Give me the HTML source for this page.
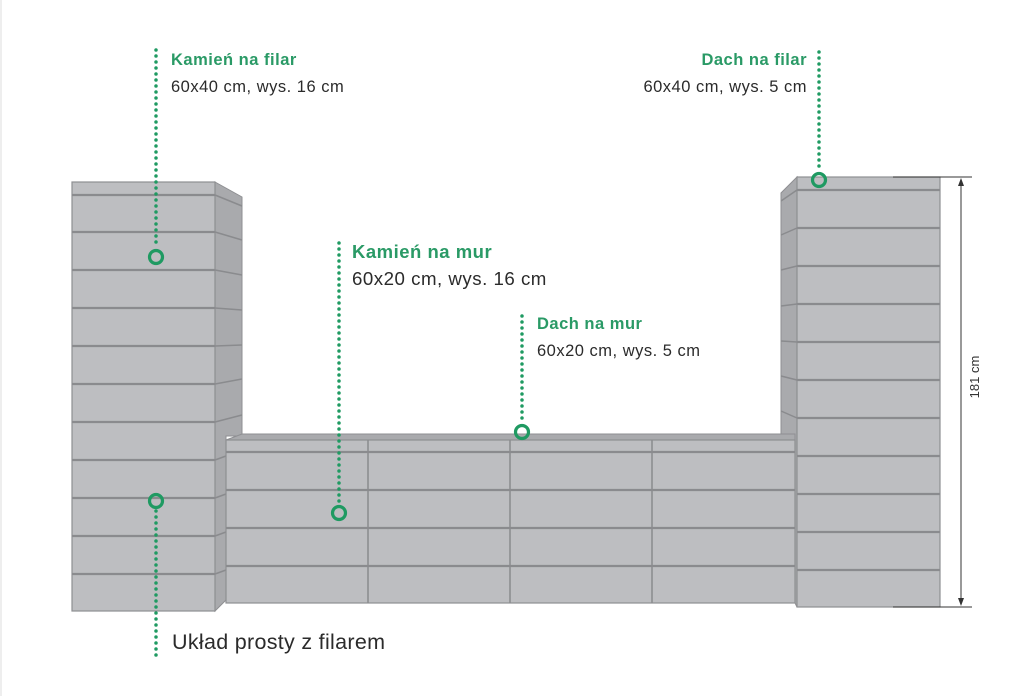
<!DOCTYPE html>
<html><head><meta charset="utf-8"><style>
html,body{margin:0;padding:0;background:#fff;}
svg{display:block;}
text{font-family:"Liberation Sans",sans-serif;}
</style></head><body>
<svg width="1024" height="696" viewBox="0 0 1024 696" xmlns="http://www.w3.org/2000/svg">
<rect x="0" y="0" width="1024" height="696" fill="#fff"/>
<line x1="1" y1="0" x2="1" y2="696" stroke="#eee" stroke-width="2"/>

<!-- LEFT PILLAR -->
<polygon points="215,182 242,197 242,436 226,436 226,600 215,611" fill="#a9aaad" stroke="#8e8f92" stroke-width="1"/>
<rect x="72" y="182" width="143" height="429" fill="#bdbec1" stroke="#8e8f92" stroke-width="1.2"/>
<g stroke="#8a8b8e" stroke-width="2.2">
<line x1="72" y1="195" x2="215" y2="195"/>
<line x1="72" y1="232" x2="215" y2="232"/>
<line x1="72" y1="270" x2="215" y2="270"/>
<line x1="72" y1="308" x2="215" y2="308"/>
<line x1="72" y1="346" x2="215" y2="346"/>
<line x1="72" y1="384" x2="215" y2="384"/>
<line x1="72" y1="422" x2="215" y2="422"/>
<line x1="72" y1="460" x2="215" y2="460"/>
<line x1="72" y1="498" x2="215" y2="498"/>
<line x1="72" y1="536" x2="215" y2="536"/>
<line x1="72" y1="574" x2="215" y2="574"/>
</g>
<g stroke="#8a8b8e" stroke-width="1.5">
<line x1="215" y1="195" x2="242" y2="206"/>
<line x1="215" y1="232" x2="242" y2="240"/>
<line x1="215" y1="270" x2="242" y2="275"/>
<line x1="215" y1="308" x2="242" y2="310"/>
<line x1="215" y1="346" x2="242" y2="345"/>
<line x1="215" y1="384" x2="242" y2="379"/>
<line x1="215" y1="422" x2="242" y2="415"/>
<line x1="215" y1="460" x2="226" y2="456"/>
<line x1="215" y1="498" x2="226" y2="494"/>
<line x1="215" y1="536" x2="226" y2="532"/>
<line x1="215" y1="574" x2="226" y2="570"/>
</g>

<!-- RIGHT PILLAR -->
<polygon points="797,177 781,193 781,436 795,436 795,603 797,607" fill="#a9aaad" stroke="#8e8f92" stroke-width="1"/>
<rect x="797" y="177" width="143" height="430" fill="#bdbec1" stroke="#8e8f92" stroke-width="1.2"/>
<g stroke="#8a8b8e" stroke-width="2.2">
<line x1="797" y1="190" x2="940" y2="190"/>
<line x1="797" y1="228" x2="940" y2="228"/>
<line x1="797" y1="266" x2="940" y2="266"/>
<line x1="797" y1="304" x2="940" y2="304"/>
<line x1="797" y1="342" x2="940" y2="342"/>
<line x1="797" y1="380" x2="940" y2="380"/>
<line x1="797" y1="418" x2="940" y2="418"/>
<line x1="797" y1="456" x2="940" y2="456"/>
<line x1="797" y1="494" x2="940" y2="494"/>
<line x1="797" y1="532" x2="940" y2="532"/>
<line x1="797" y1="570" x2="940" y2="570"/>
</g>
<g stroke="#8a8b8e" stroke-width="1.5">
<line x1="797" y1="190" x2="781" y2="201"/>
<line x1="797" y1="228" x2="781" y2="235"/>
<line x1="797" y1="266" x2="781" y2="270"/>
<line x1="797" y1="304" x2="781" y2="306"/>
<line x1="797" y1="342" x2="781" y2="341"/>
<line x1="797" y1="380" x2="781" y2="376"/>
<line x1="797" y1="418" x2="781" y2="411"/>
</g>

<!-- WALL -->
<polygon points="226,440 242,434 795,434 795,440" fill="#a9aaad" stroke="#8e8f92" stroke-width="1"/>
<rect x="226" y="440" width="569" height="163" fill="#bdbec1" stroke="#8e8f92" stroke-width="1.2"/>
<g stroke="#8a8b8e" stroke-width="2.2">
<line x1="226" y1="452" x2="795" y2="452"/>
<line x1="226" y1="490" x2="795" y2="490"/>
<line x1="226" y1="528" x2="795" y2="528"/>
<line x1="226" y1="566" x2="795" y2="566"/>
</g>
<g stroke="#8a8b8e" stroke-width="1.5">
<line x1="368" y1="440" x2="368" y2="603"/>
<line x1="510" y1="440" x2="510" y2="603"/>
<line x1="652" y1="440" x2="652" y2="603"/>
</g>

<!-- DIMENSION -->
<g stroke="#333" stroke-width="1">
<line x1="893" y1="177" x2="972" y2="177"/>
<line x1="893" y1="607" x2="972" y2="607"/>
<line x1="961" y1="180" x2="961" y2="604"/>
</g>
<polygon points="961,178 958,186 964,186" fill="#333"/>
<polygon points="961,606 958,598 964,598" fill="#333"/>
<text x="0" y="0" font-size="13" fill="#333" text-anchor="middle" transform="translate(979,377) rotate(-90)">181 cm</text>

<!-- CALLOUTS -->
<g stroke="#1f9a62" stroke-width="3.5" stroke-linecap="round" stroke-dasharray="0 6" fill="none">
<line x1="156" y1="50" x2="156" y2="248"/>
<line x1="156" y1="511" x2="156" y2="658"/>
<line x1="339" y1="243" x2="339" y2="504"/>
<line x1="522" y1="316" x2="522" y2="423"/>
<line x1="819" y1="52" x2="819" y2="171"/>
</g>
<g stroke="#1f9a62" stroke-width="3.2" fill="none">
<circle cx="156" cy="257" r="6.5"/>
<circle cx="156" cy="501" r="6.5"/>
<circle cx="339" cy="513" r="6.5"/>
<circle cx="522" cy="432" r="6.5"/>
<circle cx="819" cy="180" r="6.5"/>
</g>

<g font-weight="bold" fill="#2a9a66">
<text x="171" y="65" font-size="16.5" letter-spacing="0.5">Kamień na filar</text>
<text x="352" y="258" font-size="18.5" letter-spacing="0.5">Kamień na mur</text>
<text x="537" y="329" font-size="16.5" letter-spacing="0.5">Dach na mur</text>
<text x="807" y="65" font-size="16.5" letter-spacing="0.5" text-anchor="end">Dach na filar</text>
</g>
<g fill="#2b2b2b">
<text x="171" y="92" font-size="16.5" letter-spacing="0.5">60x40 cm, wys. 16 cm</text>
<text x="352" y="285" font-size="18.7" letter-spacing="0.5">60x20 cm, wys. 16 cm</text>
<text x="537" y="356" font-size="16.5" letter-spacing="0.5">60x20 cm, wys. 5 cm</text>
<text x="807" y="92" font-size="16.5" letter-spacing="0.5" text-anchor="end">60x40 cm, wys. 5 cm</text>
<text x="172" y="649" font-size="21.5" letter-spacing="0.3">Układ prosty z filarem</text>
</g>
</svg>
</body></html>
